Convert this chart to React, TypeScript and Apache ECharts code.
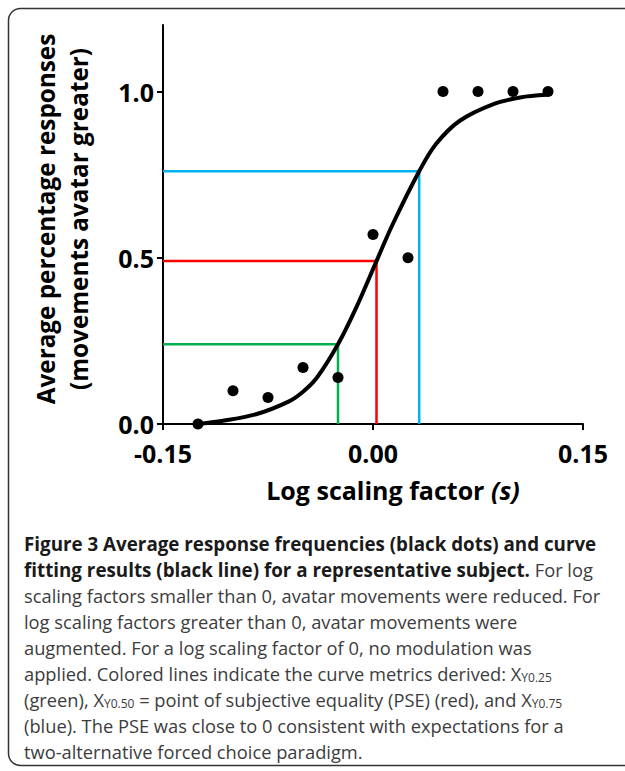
import React, { useEffect, useRef } from "react";
import * as echarts from "echarts";

// ---- data ----
const xTickValues = [-0.15, 0, 0.15];
const yTickValues = [0, 0.5, 1.0];

const dotX = [-0.125, -0.1, -0.075, -0.05, -0.025, 0, 0.025, 0.05, 0.075, 0.1, 0.125];
const dotY = [0, 0.1, 0.08, 0.17, 0.14, 0.57, 0.5, 1, 1, 1, 1];

const curveX = [-0.126, -0.107, -0.083, -0.06, -0.05, -0.04, -0.025, -0.012, 0.0025, 0.014, 0.033, 0.045, 0.062, 0.086, 0.105, 0.124];
const curveY = [0.0, 0.01, 0.03, 0.068, 0.097, 0.14, 0.24, 0.35, 0.49, 0.6, 0.76, 0.842, 0.912, 0.962, 0.982, 0.99];

const metricNames = ["XY0.25", "XY0.50", "XY0.75"];
const metricX = [-0.025, 0.0025, 0.033];
const metricY = [0.24, 0.49, 0.76];
const metricColors = ["#00B050", "#FF0000", "#00B0F0"];

const yTitleLines = ["Average percentage responses", "(movements avatar greater)"];
const xTitleMain = "Log scaling factor ";
const xTitleSymbol = "(s)";

// caption: each line is a list of [style, text] segments
const captionLines: [string, string][][] = [
  [["b", "Figure 3 Average response frequencies (black dots) and curve"]],
  [["b", "fitting results (black line) for a representative subject."], ["r", " For log"]],
  [["r", "scaling factors smaller than 0, avatar movements were reduced. For"]],
  [["r", "log scaling factors greater than 0, avatar movements were"]],
  [["r", "augmented. For a log scaling factor of 0, no modulation was"]],
  [["r", "applied. Colored lines indicate the curve metrics derived: X"], ["s", "Y0.25"]],
  [["r", "(green), X"], ["s", "Y0.50"], ["r", " = point of subjective equality (PSE) (red), and X"], ["s", "Y0.75"]],
  [["r", "(blue). The PSE was close to 0 consistent with expectations for a"]],
  [["r", "two-alternative forced choice paradigm."]],
];

const AXIS_FONT = "'Open Sans', 'Noto Sans', sans-serif";
const CAP_FONT = "'Open Sans', 'Noto Sans', sans-serif";

export default function App() {
  const ref = useRef<HTMLDivElement>(null);

  useEffect(() => {
    document.body.style.margin = "0";
    if (!ref.current) return;
    const chart = echarts.init(ref.current, undefined, { renderer: "svg" });

    const capRich = {
      b: { fontFamily: CAP_FONT, fontSize: 18.8, fontWeight: "bold", fill: "#1a1a1a", lineHeight: 20 },
      r: { fontFamily: CAP_FONT, fontSize: 18.3, fontWeight: "normal", fill: "#3c3c3c", lineHeight: 20 },
      s: { fontFamily: CAP_FONT, fontSize: 12, fontWeight: "normal", fill: "#3c3c3c", lineHeight: 11, verticalAlign: "bottom" },
    };

    const captionGraphics = captionLines.map((segs, i) => ({
      type: "text",
      x: 24,
      y: 543.5 + 26 * i,
      silent: true,
      style: {
        text: segs.map(([k, t]) => `{${k}|${t}}`).join(""),
        rich: capRich,
        align: "left",
        verticalAlign: "middle",
      },
    }));

    const metricSeries = metricNames.map((name, i) => ({
      name,
      type: "line",
      data: [
        [-0.15, metricY[i]],
        [metricX[i], metricY[i]],
        [metricX[i], 0],
      ],
      symbol: "none",
      lineStyle: { color: metricColors[i], width: 2.5 },
      z: 2,
      silent: true,
    }));

    const fmt = (v: number, d: number) => {
      const val = Math.abs(v) < 1e-9 ? 0 : v;
      return val.toFixed(d);
    };

    chart.setOption({
      animation: false,
      grid: { left: 163, right: 42, top: 25, bottom: 347, containLabel: false },
      xAxis: {
        type: "value",
        min: -0.15,
        max: 0.15,
        interval: 0.15,
        axisLine: { show: true, onZero: false, lineStyle: { color: "#000", width: 2 } },
        axisTick: { show: true, length: 6, lineStyle: { color: "#000", width: 2 }, customValues: xTickValues },
        axisLabel: {
          customValues: xTickValues,
          formatter: (v: number) => fmt(v, 2),
          fontFamily: AXIS_FONT,
          fontSize: 25,
          fontWeight: "bold",
          color: "#000",
          lineHeight: 20,
          margin: 19,
        },
        splitLine: { show: false },
      },
      yAxis: {
        type: "value",
        min: 0,
        max: 1.2,
        interval: 0.5,
        axisLine: { show: true, onZero: false, lineStyle: { color: "#000", width: 2 } },
        axisTick: { show: true, length: 6, lineStyle: { color: "#000", width: 2 }, customValues: yTickValues },
        axisLabel: {
          customValues: yTickValues,
          formatter: (v: number) => (v > 1.1 ? "" : fmt(v, 1)),
          fontFamily: AXIS_FONT,
          fontSize: 25,
          fontWeight: "bold",
          color: "#000",
          lineHeight: 20,
          margin: 9,
        },
        splitLine: { show: false },
      },
      series: [
        ...metricSeries,
        {
          name: "fit",
          type: "line",
          data: curveX.map((x, i) => [x, curveY[i]]),
          smooth: 0.35,
          symbol: "none",
          lineStyle: { color: "#000", width: 4 },
          z: 3,
          silent: true,
        },
        {
          name: "responses",
          type: "scatter",
          data: dotX.map((x, i) => [x, dotY[i]]),
          symbolSize: 11,
          itemStyle: { color: "#000", opacity: 1 },
          z: 4,
          silent: true,
        },
      ],
      graphic: [
        {
          type: "rect",
          silent: true,
          z: -10,
          shape: { x: 8.5, y: 8.5, width: 700, height: 757, r: 12 },
          style: { fill: "none", stroke: "#333", lineWidth: 1.5 },
        },
        {
          type: "text",
          x: 62,
          y: 219,
          rotation: Math.PI / 2,
          silent: true,
          style: {
            text: yTitleLines.join("\n"),
            fontFamily: AXIS_FONT,
            fontSize: 24.3,
            fontWeight: "bold",
            fill: "#000",
            align: "center",
            verticalAlign: "middle",
            lineHeight: 33,
          },
        },
        {
          type: "text",
          x: 393,
          y: 490,
          silent: true,
          style: {
            text: `{m|${xTitleMain}}{i|${xTitleSymbol}}`,
            align: "center",
            verticalAlign: "middle",
            rich: {
              m: { fontFamily: AXIS_FONT, fontSize: 25, fontWeight: "bold", fill: "#000" },
              i: { fontFamily: AXIS_FONT, fontSize: 25, fontWeight: "bold", fontStyle: "italic", fill: "#000" },
            },
          },
        },
        ...captionGraphics,
      ],
    });

    return () => chart.dispose();
  }, []);

  return <div ref={ref} style={{ width: 625, height: 771 }} />;
}
